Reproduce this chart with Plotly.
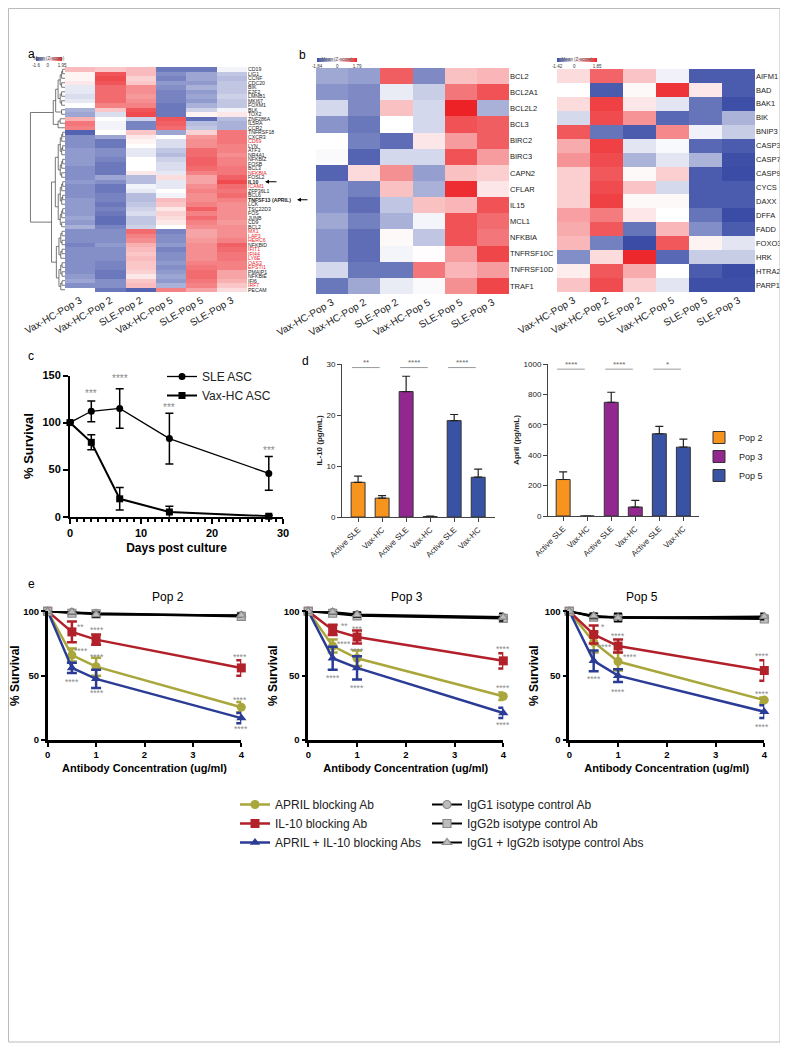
import plotly.graph_objects as go

# page coordinates (the page body adds an 8 px offset around the figure)
OFF = 8
FW, FH = 780, 1042
FONT = "Arial, Liberation Sans, Helvetica, sans-serif"
BLUE_HM = "#3A4CA6"
RED_HM = "#EC2227"
GRAY_TXT = "#8A8A8A"


def px(x):
    return (x - OFF) / FW


def py(y):
    return 1 - (y - OFF) / FH


def dx(a, b):
    return [px(a), px(b)]


def dy(top, bottom):
    return [py(bottom), py(top)]


# ---------------- Panel a data ----------------
a_cols = ["Vax-HC-Pop 3", "Vax-HC-Pop 2", "SLE-Pop 2", "Vax-HC-Pop 5", "SLE-Pop 5", "SLE-Pop 3"]
a_genes = ["CD19", "LIG1", "CCNF", "CDC20", "BIK", "E2F2", "LMNB1", "MKI67", "FOXM1", "BLK",
           "TOX2", "ZNF286A", "IL5RA", "CCR2", "TNFRSF18", "CXCR3", "CD69", "LYN", "ATF3", "NR4A1",
           "NFKBIZ", "FOSB", "BCL3", "NFKBIA", "FOSL2", "IL10", "ICAM1", "ZFP36L1", "BCL6",
           "TNFSF13 (APRIL)", "LCK", "TSC22D3", "FOS", "JUNB", "CD9", "BCL2", "MX1", "LAP3", "HERC6",
           "NFKBID", "IFIT1", "IFI44", "LY6E", "OAS3", "EPSTI1", "PMAIP1", "NFKBIE", "IFI6", "IRF7",
           "PECAM"]
a_red_genes = ["CD69", "NFKBIA", "ICAM1", "MX1", "LAP3", "HERC6", "IFIT1", "IFI44", "LY6E",
               "OAS3", "EPSTI1", "IRF7"]
a_bold_genes = ["IL10", "TNFSF13 (APRIL)"]
a_z = [
    [0.6, 0.5, 0.6, -1.2, -1.2, -0.1],
    [0.1, 1.5, 0.6, -1.0, -0.8, -0.5],
    [0.1, 1.6, 0.4, -1.1, -0.8, -0.6],
    [0.2, 1.5, 0.5, -0.9, -0.9, -0.5],
    [-0.2, 1.3, 1.0, -1.0, -0.7, -0.5],
    [-0.2, 1.3, 1.0, -1.1, -0.9, -0.5],
    [-0.3, 1.3, 0.9, -1.1, -0.8, -0.4],
    [-0.2, 1.3, 1.0, -1.1, -0.9, -0.5],
    [0.0, 1.1, 1.1, -1.2, -0.7, -0.5],
    [-0.7, 0.5, 1.5, -1.2, -0.4, -0.1],
    [-0.8, -0.3, 1.6, -1.2, 0.1, 0.2],
    [0.7, 0.0, -0.4, 1.5, -1.3, -0.6],
    [1.2, -0.1, -1.1, 1.4, -0.6, -0.7],
    [1.1, -0.1, -1.1, 1.3, -0.5, -0.7],
    [-1.4, 0.0, 0.5, -0.8, 0.4, 1.2],
    [-1.0, -0.8, 0.2, 0.0, 0.9, 1.2],
    [-1.0, -1.2, 0.1, -0.3, 1.0, 1.2],
    [-1.0, -1.2, 0.0, -0.3, 1.0, 1.1],
    [-0.9, -1.0, -0.2, -0.5, 1.3, 1.1],
    [-0.9, -1.0, -0.2, -0.6, 1.3, 1.0],
    [-0.9, -1.1, 0.0, -0.4, 1.4, 1.1],
    [-0.9, -1.2, 0.0, -0.3, 1.4, 1.1],
    [-1.0, -1.2, 0.0, -0.3, 1.3, 1.2],
    [-1.0, -1.2, 0.2, -0.2, 1.1, 1.2],
    [-1.0, -0.8, -0.6, 0.3, 0.8, 1.4],
    [-0.9, -1.0, -0.6, -0.2, 0.8, 1.6],
    [-1.0, -1.2, -0.1, -0.2, 1.0, 1.3],
    [-1.0, -1.2, -0.2, 0.0, 1.1, 1.2],
    [-1.0, -1.1, -0.6, -0.1, 1.0, 1.3],
    [-0.9, -1.1, -0.6, 0.6, 1.0, 1.1],
    [-0.9, -1.2, -0.5, 0.5, 1.1, 1.0],
    [-0.9, -1.1, -0.4, 0.2, 1.4, 1.0],
    [-0.9, -1.2, -0.3, 0.4, 1.1, 1.0],
    [-0.8, -1.3, -0.5, 0.3, 1.3, 1.0],
    [-0.9, -1.3, -0.5, 0.2, 1.1, 0.9],
    [-0.7, -1.1, -0.4, 0.0, 1.0, 1.0],
    [-1.0, -1.0, 1.3, -1.1, 0.8, 1.0],
    [-1.0, -1.0, 1.1, -1.0, 0.8, 1.0],
    [-1.0, -1.0, 1.0, -1.0, 0.9, 1.1],
    [-1.1, -0.9, 0.7, -0.9, 1.0, 1.4],
    [-1.0, -1.0, 0.6, -1.1, 1.0, 1.3],
    [-1.0, -1.0, 0.5, -1.0, 1.0, 1.2],
    [-1.0, -1.0, 0.6, -1.0, 1.0, 1.2],
    [-1.0, -1.1, 0.5, -0.9, 1.1, 1.1],
    [-1.0, -1.1, 0.5, -1.0, 1.2, 1.1],
    [-1.0, -1.2, 0.4, -0.9, 1.3, 0.8],
    [-0.9, -1.2, 0.2, -0.8, 1.3, 0.8],
    [-0.8, -1.0, 0.5, -0.9, 1.2, 0.7],
    [-1.0, -1.0, 0.6, -0.7, 1.1, 0.5],
    [0.0, -1.2, -1.4, 1.1, 0.8, 0.3],
]
a_zmin, a_zmax = -1.6, 1.95
# cluster tree of the rows: [left, right, height]; ["range", first, last, height]
a_tree = [[[["range", 0, 8, 0.2], ["range", 9, 10, 0.1], 0.27], ["range", 11, 13, 0.2], 0.34],
          [["range", 14, 35, 0.28], ["range", 36, 49, 0.25], 0.39], 1.0]

# ---------------- Panel b data ----------------
b_cols = a_cols
b1_genes = ["BCL2", "BCL2A1", "BCL2L2", "BCL3", "BIRC2", "BIRC3", "CAPN2", "CFLAR", "IL15",
            "MCL1", "NFKBIA", "TNFRSF10C", "TNFRSF10D", "TRAF1"]
b1_z = [
    [-0.9, -1.0, 1.3, -1.2, 0.5, 0.6],
    [-1.1, -1.2, -0.2, -0.5, 1.1, 1.4],
    [-0.4, -1.2, 0.5, -0.4, 1.8, -0.8],
    [-1.1, -1.4, 0.0, -0.4, 1.4, 1.3],
    [0.0, -1.3, -1.5, 0.2, 0.8, 1.3],
    [-0.05, -1.6, -0.4, -0.4, 1.4, 0.8],
    [-1.6, 0.3, 0.9, -1.0, 0.5, 0.4],
    [-1.1, -1.3, 0.5, -0.8, 1.7, 0.2],
    [-1.1, -1.5, -0.6, 0.5, 0.6, 1.4],
    [-0.9, -1.3, -0.8, -0.1, 1.4, 1.2],
    [-1.1, -1.5, 0.05, -0.6, 1.4, 1.1],
    [-1.1, -1.5, -0.1, 0.02, 0.8, 1.5],
    [-0.4, -1.4, -1.4, 1.1, 0.6, 0.8],
    [-1.4, -0.9, -0.2, -0.05, 0.9, 1.5],
]
b1_zmin, b1_zmax = -1.84, 1.79
b2_genes = ["AIFM1", "BAD", "BAK1", "BIK", "BNIP3", "CASP3", "CASP7", "CASP9", "CYCS", "DAXX",
            "DFFA", "FADD", "FOXO3", "HRK", "HTRA2", "PARP1"]
b2_z = [
    [0.3, 1.3, 0.5, -0.1, -1.3, -1.3],
    [0.0, -1.3, 0.05, 1.7, 0.2, -1.3],
    [0.3, 1.6, 0.2, -0.2, -1.1, -1.4],
    [-0.3, 1.5, 0.9, -1.2, -1.1, -0.6],
    [1.4, -1.1, -1.3, 1.0, -0.1, -0.4],
    [0.7, 1.6, -0.2, -0.05, -1.2, -1.3],
    [0.9, 1.5, -0.6, -0.2, -0.6, -1.4],
    [0.4, 1.4, 0.05, 0.4, -1.3, -1.5],
    [0.4, 1.5, 0.5, -0.3, -1.3, -1.3],
    [0.4, 1.6, 0.05, 0.05, -1.3, -1.3],
    [0.8, 1.1, 0.2, 0.0, -1.1, -1.5],
    [0.7, 1.4, -1.1, 0.6, -0.9, -1.3],
    [0.6, -1.0, -1.5, 1.4, 0.1, -0.2],
    [-0.9, 0.3, 1.8, -1.2, -0.4, -0.4],
    [0.15, 1.4, 0.7, 0.0, -1.3, -1.5],
    [0.5, 1.5, 0.4, -0.2, -1.4, -1.4],
]
b2_zmin, b2_zmax = -1.42, 1.85

# ---------------- Panel c data ----------------
c_days = [0, 3, 7, 14, 28]
c_sle = [100, 112, 115, 83, 46]
c_sle_err = [0, 11, 21, 27, 18]
c_vax = [100, 79, 19, 5, 0.5]
c_vax_err = [0, 8, 12, 6, 1]
c_sig_x = [3, 7, 14, 28]
c_sig_y = [131, 147, 116, 70]
c_sig_txt = ["***", "****", "***", "***"]

# ---------------- Panel d data ----------------
d_cats = ["Active SLE", "Vax-HC", "Active SLE", "Vax-HC", "Active SLE", "Vax-HC"]
d_pops = ["Pop 2", "Pop 3", "Pop 5"]
d_colors = ["#F7941D", "#92278F", "#3953A4"]
d_il10 = [6.8, 3.7, 24.6, 0.1, 18.9, 7.8]
d_il10_err = [1.2, 0.5, 3.0, 0.1, 1.2, 1.6]
d_april = [240, 0, 748, 59, 541, 453]
d_april_err = [50, None, 66, 44, 48, 53]
d_il10_sig = ["**", "****", "****"]
d_april_sig = ["****", "****", "*"]

# ---------------- Panel e data ----------------
e_x = [0, 0.5, 1, 4]
e_titles = ["Pop 2", "Pop 3", "Pop 5"]
e_april = [[100, 66, 57, 25.5], [100, 73, 63.5, 34], [100, 76, 61, 31]]
e_april_err = [[0, 5, 7, 4], [0, 5, 6, 3], [0, 8, 7, 2]]
e_il10 = [[100, 84, 78, 56], [100, 85.5, 80, 61.5], [100, 82, 73, 54]]
e_il10_err = [[0, 8, 4, 6], [0, 4, 5, 6], [0, 7, 5, 8]]
e_combo = [[100, 56, 47.5, 17], [100, 63.5, 56, 21], [100, 61.5, 50, 22]]
e_combo_err = [[0, 4, 7, 4], [0, 9, 9, 4], [0, 8, 5, 5]]
e_igg1 = [[100, 99, 98.5, 96.5], [100, 99, 97, 95], [100, 96, 95.5, 95]]
e_igg2b = [[100, 98.5, 98, 96], [100, 98.5, 96.5, 94.5], [100, 95.5, 95, 94]]
e_iggboth = [[100, 99.5, 97.5, 97], [100, 99.5, 97.5, 95.5], [100, 96.5, 95, 96]]
e_ctrl_err = [[0, 1.5, 2, 1.5], [0, 1.5, 2, 3], [0, 2, 3, 2.5]]
e_sig = [
    [(0.67, 89, "**"), (1.02, 87, "****"), (3.98, 66, "****"),
     (0.69, 71, "****"), (1.02, 66, "****"), (3.98, 33, "****"),
     (0.5, 47, "****"), (1.02, 38, "****"), (4.0, 10, "****")],
    [(0.74, 90, "**"), (1.0, 88, "***"), (4.0, 72, "****"),
     (0.74, 76, "****"), (1.0, 71, "****"), (4.0, 42, "****"),
     (0.5, 50, "****"), (1.0, 42, "****"), (4.0, 13, "****")],
    [(0.69, 89, "*"), (1.0, 82, "****"), (3.95, 67, "****"),
     (0.74, 74, "****"), (1.25, 66, "****"), (3.95, 37, "****"),
     (0.5, 49, "****"), (1.0, 39, "****"), (3.95, 12, "****")],
]
e_names = ["APRIL blocking Ab", "IL-10 blocking Ab", "APRIL + IL-10 blocking Abs",
           "IgG1 isotype control Ab", "IgG2b isotype control Ab", "IgG1 + IgG2b isotype control Abs"]

# ---------------- helpers ----------------
def div_scale(zmin, zmax):
    mid = -zmin / (zmax - zmin)
    return [[0, BLUE_HM], [mid, "#FFFFFF"], [1, RED_HM]]


def cbar(x0, x1, ybot, zmin, zmax):
    return dict(orientation="h", x=px(x0), xanchor="left", y=py(ybot), yanchor="bottom",
                len=x1 - x0, lenmode="pixels", thickness=4, outlinewidth=0,
                tickvals=[zmin, 0, zmax], ticktext=[f"{zmin:g}", "0", f"{zmax:g}"],
                tickfont=dict(size=4.5, family=FONT, color="#333"), ticks="", ticklen=0,
                title=dict(text="Mean (Z-score)", side="top", font=dict(size=4.5, family=FONT, color="#555")),
                xpad=0, ypad=0)


def gene_label(g):
    if g in a_bold_genes:
        return f"<b>{g}</b>"
    if g in a_red_genes:
        return f"<span style='color:#E8262B'>{g}</span>"
    return g


def subtree(i, j, h):
    if i == j:
        return float(i), 0.0, []
    m = (i + j) // 2
    yl, hl, sl = subtree(i, m, h * 0.7 if m > i else 0)
    yr, hr, sr = subtree(m + 1, j, h * 0.7 if j > m + 1 else 0)
    segs = sl + sr + [((hl, yl), (h, yl)), ((h, yl), (h, yr)), ((h, yr), (hr, yr))]
    return (yl + yr) / 2, h, segs


def tree(node):
    if node[0] == "range":
        return subtree(node[1], node[2], node[3])
    left, right, h = node
    yl, hl, sl = tree(left)
    yr, hr, sr = tree(right)
    segs = sl + sr + [((hl, yl), (h, yl)), ((h, yl), (h, yr)), ((h, yr), (hr, yr))]
    return (yl + yr) / 2, h, segs


fig = go.Figure()

# ---------------- Panel a ----------------
fig.add_trace(go.Heatmap(z=a_z, x=list(range(len(a_cols))), y=list(range(len(a_genes))),
                         colorscale=div_scale(a_zmin, a_zmax), zmin=a_zmin, zmax=a_zmax,
                         xaxis="x", yaxis="y", colorbar=cbar(36, 62, 66, a_zmin, a_zmax)))
_, _, dsegs = tree(a_tree)
dxs, dys = [], []
for (x0, y0), (x1, y1) in dsegs:
    dxs += [x0, x1, None]
    dys += [y0, y1, None]
fig.add_trace(go.Scatter(x=dxs, y=dys, mode="lines", line=dict(color="#555", width=0.8),
                         xaxis="x2", yaxis="y2", showlegend=False, hoverinfo="skip"))

# ---------------- Panel b ----------------
fig.add_trace(go.Heatmap(z=b1_z, x=list(range(6)), y=list(range(len(b1_genes))),
                         colorscale=div_scale(b1_zmin, b1_zmax), zmin=b1_zmin, zmax=b1_zmax,
                         xaxis="x3", yaxis="y3", colorbar=cbar(317, 357, 67, b1_zmin, b1_zmax)))
fig.add_trace(go.Heatmap(z=b2_z, x=list(range(6)), y=list(range(len(b2_genes))),
                         colorscale=div_scale(b2_zmin, b2_zmax), zmin=b2_zmin, zmax=b2_zmax,
                         xaxis="x4", yaxis="y4", colorbar=cbar(557, 597, 67, b2_zmin, b2_zmax)))

# ---------------- Panel c ----------------
fig.add_trace(go.Scatter(x=c_days, y=c_sle, mode="lines+markers", name="SLE ASC",
                         line=dict(color="black", width=1.3),
                         marker=dict(symbol="circle", size=7, color="black"),
                         error_y=dict(type="data", array=c_sle_err, color="black", thickness=1.5, width=4),
                         xaxis="x5", yaxis="y5", cliponaxis=False, legend="legend3"))
fig.add_trace(go.Scatter(x=c_days, y=c_vax, mode="lines+markers", name="Vax-HC ASC",
                         line=dict(color="black", width=2),
                         marker=dict(symbol="square", size=7, color="black"),
                         error_y=dict(type="data", array=c_vax_err, color="black", thickness=1.5, width=4),
                         xaxis="x5", yaxis="y5", cliponaxis=False, legend="legend3"))

# ---------------- Panel d ----------------
for k, (pop, col) in enumerate(zip(d_pops, d_colors)):
    idx = [2 * k, 2 * k + 1]
    fig.add_trace(go.Bar(x=idx, y=[d_il10[i] for i in idx], name=pop, width=0.58,
                         marker=dict(color=col, line=dict(color="#333", width=1)),
                         error_y=dict(type="data", symmetric=False, array=[d_il10_err[i] for i in idx],
                                      arrayminus=[0, 0], color="#222", thickness=1.2, width=4),
                         xaxis="x6", yaxis="y6", legend="legend4"))
    fig.add_trace(go.Bar(x=idx, y=[d_april[i] for i in idx], name=pop, width=0.58, showlegend=False,
                         marker=dict(color=col, line=dict(color="#333", width=1)),
                         error_y=dict(type="data", symmetric=False, array=[d_april_err[i] for i in idx],
                                      arrayminus=[0, 0], color="#222", thickness=1.2, width=4),
                         xaxis="x7", yaxis="y7"))

# ---------------- Panel e ----------------
e_colors = ["#A9A63B", "#B2202A", "#2B3C96"]
e_symbols = ["circle", "square", "triangle-up"]
ctrl_symbols = ["circle", "square", "triangle-up"]
for p in range(3):
    xa, ya = f"x{8 + p}", f"y{8 + p}"
    series = [(e_april[p], e_april_err[p]), (e_il10[p], e_il10_err[p]), (e_combo[p], e_combo_err[p])]
    for s, (vals, errs) in enumerate(series):
        fig.add_trace(go.Scatter(x=e_x, y=vals, mode="lines+markers", name=e_names[s],
                                 line=dict(color=e_colors[s], width=2.5),
                                 marker=dict(symbol=e_symbols[s], size=9, color=e_colors[s]),
                                 error_y=dict(type="data", array=errs, color=e_colors[s], thickness=2.5, width=5),
                                 xaxis=xa, yaxis=ya, cliponaxis=False, legend="legend",
                                 showlegend=(p == 0)))
    for s, vals in enumerate([e_igg1[p], e_igg2b[p], e_iggboth[p]]):
        fig.add_trace(go.Scatter(x=e_x, y=vals, mode="lines+markers", name=e_names[3 + s],
                                 line=dict(color="black", width=2),
                                 marker=dict(symbol=ctrl_symbols[s], size=8, color="#BDBDBD",
                                             line=dict(color="#8A8A8A", width=1.2)),
                                 error_y=dict(type="data", array=e_ctrl_err[p], color="black", thickness=1.5, width=4),
                                 xaxis=xa, yaxis=ya, cliponaxis=False, legend="legend2",
                                 showlegend=(p == 0)))

# ---------------- axes ----------------
hm_x = dict(tickmode="array", tickvals=list(range(6)), tickangle=-30, ticks="", showgrid=False,
            zeroline=False, showline=False, automargin=False,
            tickfont=dict(size=10, family=FONT, color="#222"))
layout_axes = {}
layout_axes["xaxis"] = dict(hm_x, domain=dx(65, 247), ticktext=a_cols, anchor="y")
layout_axes["yaxis"] = dict(domain=dy(67, 292), anchor="x", side="right", range=[len(a_genes) - 0.5, -0.5],
                            tickmode="array", tickvals=list(range(len(a_genes))), automargin=False,
                            ticktext=[gene_label(g) for g in a_genes], ticks="", showgrid=False,
                            zeroline=False, tickfont=dict(size=5.2, family=FONT, color="#222"))
layout_axes["xaxis2"] = dict(domain=dx(27, 65), range=[1.1, 0], visible=False, anchor="y2", automargin=False)
layout_axes["yaxis2"] = dict(domain=dy(67, 292), range=[len(a_genes) - 0.5, -0.5], visible=False,
                             anchor="x2", automargin=False)
layout_axes["xaxis3"] = dict(hm_x, domain=dx(316, 509), ticktext=b_cols, anchor="y3")
layout_axes["yaxis3"] = dict(domain=dy(68, 294), anchor="x3", side="right", range=[len(b1_genes) - 0.5, -0.5],
                             tickmode="array", tickvals=list(range(len(b1_genes))), ticktext=b1_genes,
                             ticks="", showgrid=False, zeroline=False, automargin=False,
                             tickfont=dict(size=7.5, family=FONT, color="#222"))
layout_axes["xaxis4"] = dict(hm_x, domain=dx(557, 755), ticktext=b_cols, anchor="y4")
layout_axes["yaxis4"] = dict(domain=dy(69, 292), anchor="x4", side="right", range=[len(b2_genes) - 0.5, -0.5],
                             tickmode="array", tickvals=list(range(len(b2_genes))), ticktext=b2_genes,
                             ticks="", showgrid=False, zeroline=False, automargin=False,
                             tickfont=dict(size=7.5, family=FONT, color="#222"))

prism = dict(showline=True, linecolor="black", linewidth=2, ticks="outside", tickcolor="black",
             tickwidth=2, ticklen=5, showgrid=False, zeroline=False, automargin=False,
             tickfont=dict(size=11, family=FONT, color="black", weight="bold"))
layout_axes["xaxis5"] = dict(prism, domain=dx(70, 283), range=[0, 30], dtick=10, anchor="y5",
                             minor=dict(ticks="outside", dtick=1, ticklen=3, tickwidth=1.5, tickcolor="black"),
                             title=dict(text="<b>Days post culture</b>", font=dict(size=12, family=FONT, color="black"),
                                        standoff=6))
layout_axes["yaxis5"] = dict(prism, domain=dy(375.5, 516.7), range=[0, 150], dtick=50, anchor="x5",
                             title=dict(text="<b>% Survival</b>", font=dict(size=13, family=FONT, color="black"),
                                        standoff=6))

dstyle = dict(showline=True, linecolor="#444", linewidth=1, ticks="outside", tickcolor="#444", ticklen=4,
              tickwidth=1, showgrid=False, zeroline=False, automargin=False,
              tickfont=dict(size=8, family=FONT, color="#222"))
layout_axes["xaxis6"] = dict(dstyle, domain=dx(342, 495), range=[-0.67, 5.7], tickmode="array",
                             tickvals=list(range(6)), ticktext=d_cats, tickangle=-45, anchor="y6")
layout_axes["yaxis6"] = dict(dstyle, domain=dy(364, 517), range=[0, 30], dtick=10, anchor="x6",
                             title=dict(text="<b>IL-10 (pg/mL)</b>", font=dict(size=8, family=FONT, color="#222"),
                                        standoff=2))
layout_axes["xaxis7"] = dict(dstyle, domain=dx(548, 699), range=[-0.63, 5.65], tickmode="array",
                             tickvals=list(range(6)), ticktext=d_cats, tickangle=-45, anchor="y7")
layout_axes["yaxis7"] = dict(dstyle, domain=dy(364, 516), range=[0, 1000], dtick=200, anchor="x7",
                             title=dict(text="<b>April (pg/mL)</b>", font=dict(size=8, family=FONT, color="#222"),
                                        standoff=2))

e_doms = [(47.7, 241.3), (308.3, 503.3), (569.3, 764.3)]
eprism = dict(showline=True, linecolor="black", linewidth=2.5, ticks="outside", tickcolor="black",
              tickwidth=2, ticklen=4, showgrid=False, zeroline=False, automargin=False,
              tickfont=dict(size=9.5, family=FONT, color="black", weight="bold"))
for p, (x0, x1) in enumerate(e_doms):
    n = 8 + p
    layout_axes[f"xaxis{n}"] = dict(eprism, domain=dx(x0, x1), range=[0, 4], dtick=1, anchor=f"y{n}",
                                    title=dict(text="<b>Antibody Concentration (ug/ml)</b>",
                                               font=dict(size=11, family=FONT, color="black"), standoff=6))
    layout_axes[f"yaxis{n}"] = dict(eprism, domain=dy(611.3, 740), range=[0, 100], tickvals=[0, 50, 100],
                                    anchor=f"x{n}",
                                    title=dict(text="<b>% Survival</b>", font=dict(size=12, family=FONT, color="black"),
                                               standoff=4))

# ---------------- annotations & shapes ----------------
ann = []
shapes = []
for t, (x, y) in zip(["a", "b", "c", "d", "e"], [(26, 45), (302, 46), (26, 356), (305, 361), (26, 584)]):
    ann.append(dict(text=t, x=px(x), y=py(y), xref="paper", yref="paper", showarrow=False,
                    font=dict(size=12, family=FONT, color="black")))
# arrows for highlighted genes in panel a
for g, (xh, xt) in zip(a_bold_genes, [(265, 278), (297, 309)]):
    r = a_genes.index(g)
    ann.append(dict(x=px(xh), y=r, xref="paper", yref="y", ax=xt - xh, ay=0, axref="pixel", ayref="pixel",
                    text="", showarrow=True, arrowhead=2, arrowsize=0.8, arrowwidth=1, arrowcolor="black"))
# panel c significance
for x, y, t in zip(c_sig_x, c_sig_y, c_sig_txt):
    ann.append(dict(x=x, y=y, xref="x5", yref="y5", text=t, showarrow=False,
                    font=dict(size=10, family=FONT, color=GRAY_TXT)))
# panel d significance
for (xa, ya, sigs, ly) in [("x6", "y6", d_il10_sig, 29.3), ("x7", "y7", d_april_sig, 966)]:
    for k, t in enumerate(sigs):
        i = 2 * k
        shapes.append(dict(type="line", xref=xa, yref=ya, x0=i - 0.25, x1=i + 0.9, y0=ly, y1=ly,
                           line=dict(color="#999", width=1)))
        ann.append(dict(x=i + 0.32, y=ly, xref=xa, yref=ya, text=t, showarrow=False, yshift=5,
                        font=dict(size=8, family=FONT, color="#666")))
# panel e titles and significance
for p, (cx, cy) in enumerate([(150, 597), (407, 597), (660, 597)]):
    ann.append(dict(text=e_titles[p], x=px(cx), y=py(cy), xref="paper", yref="paper", showarrow=False,
                    font=dict(size=12, family=FONT, color="black")))
    for x, y, t in e_sig[p]:
        ann.append(dict(x=x, y=y, xref=f"x{8 + p}", yref=f"y{8 + p}", text=t, showarrow=False, yshift=-2,
                        font=dict(size=8.5, family=FONT, color=GRAY_TXT)))

shapes.append(dict(type="rect", xref="paper", yref="paper", x0=px(8.5), x1=px(780), y0=py(1042), y1=py(8.5),
                   line=dict(color="#BBBBBB", width=1)))

legend_common = dict(bgcolor="rgba(0,0,0,0)", xanchor="left", yanchor="top", traceorder="normal",
                     itemclick=False, itemdoubleclick=False)
fig.update_layout(
    width=FW, height=FH, margin=dict(l=0, r=0, t=0, b=0, autoexpand=False),
    paper_bgcolor="white", plot_bgcolor="white",
    font=dict(family=FONT, color="black"),
    barmode="overlay", showlegend=True,
    annotations=ann, shapes=shapes,
    legend=dict(legend_common, x=px(235), y=py(790), font=dict(size=12, family=FONT, color="#222")),
    legend2=dict(legend_common, x=px(427), y=py(790), font=dict(size=12, family=FONT, color="#222")),
    legend3=dict(legend_common, x=px(162), y=py(362), font=dict(size=12, family=FONT, color="#222")),
    legend4=dict(legend_common, x=px(699), y=py(423), font=dict(size=9, family=FONT, color="#222")),
    **layout_axes,
)

fig.write_html("out.html")
